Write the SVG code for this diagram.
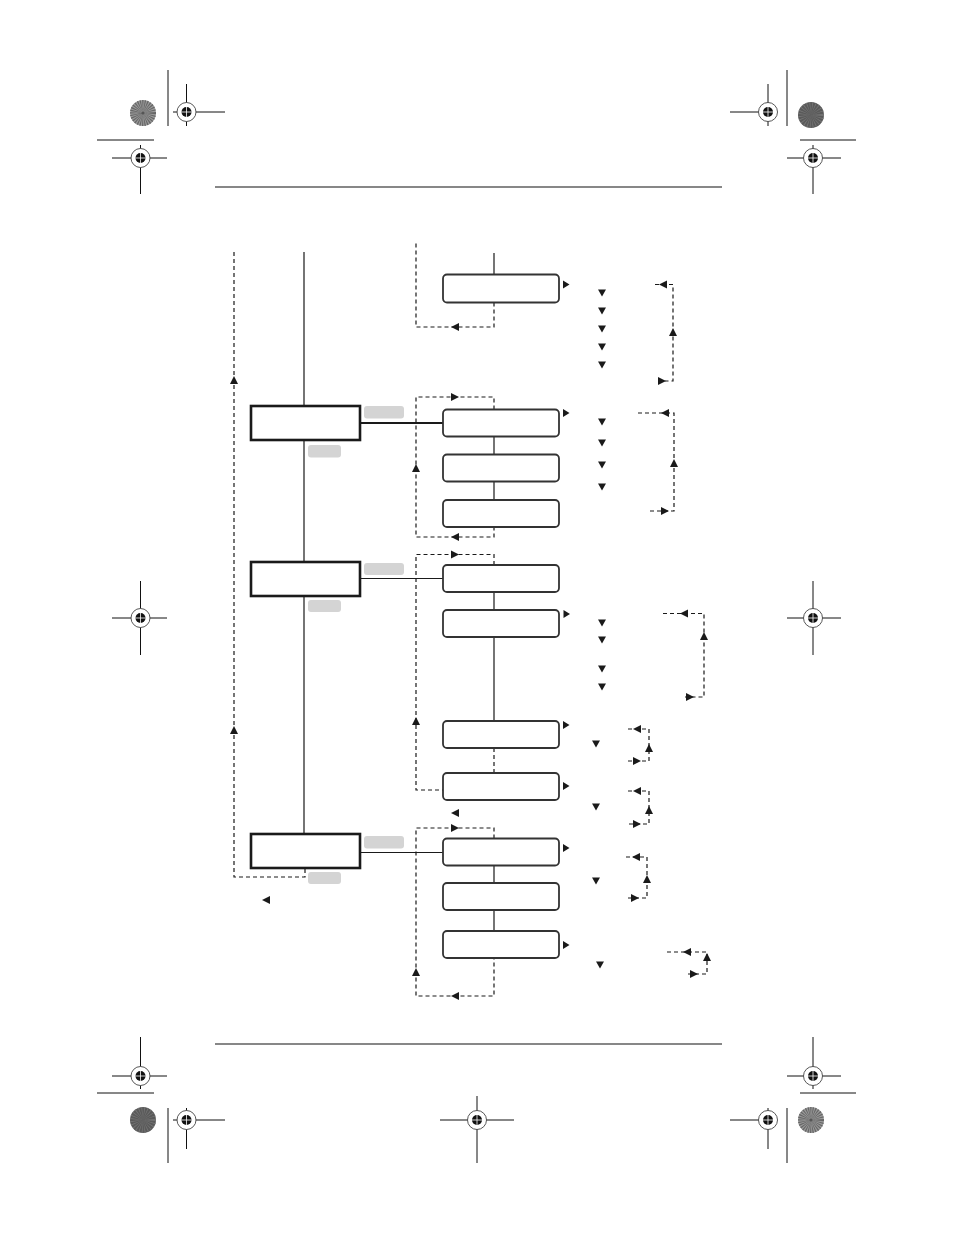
<svg xmlns="http://www.w3.org/2000/svg" xmlns:xlink="http://www.w3.org/1999/xlink" width="954" height="1235" viewBox="0 0 954 1235">
<style>
.rule{stroke:#111;stroke-width:1.2;fill:none}
.crop{stroke:#111;stroke-width:1;fill:none}
.main{fill:#fff;stroke:#1a1a1a;stroke-width:2.6}
.child{fill:#fff;stroke:#333;stroke-width:1.8}
.pill{fill:#d4d4d4}
.solid{stroke:#1a1a1a;stroke-width:1.2;fill:none}
.thick{stroke:#1a1a1a;stroke-width:2.2;fill:none}
.dash{stroke:#1a1a1a;stroke-width:1.2;fill:none;stroke-dasharray:4 3}
.ah{fill:#1a1a1a}
</style>
<defs>
<path id="aR" d="M-4,-4 L4,0 L-4,4 Z"/>
<path id="aL" d="M4,-4 L-4,0 L4,4 Z"/>
<path id="aU" d="M-4,4 L0,-4 L4,4 Z"/>
<path id="aD" d="M-4,-3.5 L4,-3.5 L0,3.5 Z"/>
<path id="tR" d="M-3,-4 L3.5,0 L-3,4 Z"/>
<g id="reg">
<circle r="9.5" fill="#fff" stroke="#444" stroke-width="0.9"/>
<circle r="5" fill="#111"/>
<path d="M-5,0 H5 M0,-5 V5" stroke="#fff" stroke-width="0.8"/>
</g>
<g id="discL">
<circle r="13" fill="#9a9a9a"/>
<circle r="6.5" fill="none" stroke="#666" stroke-width="13" stroke-dasharray="0.7 0.7"/>
<circle r="1.5" fill="#555"/>
</g>
<g id="discD">
<circle r="13" fill="#5a5a5a"/>
<circle r="6.5" fill="none" stroke="#777" stroke-width="13" stroke-dasharray="0.5 1.2"/>
</g>
</defs>

<g id="printer-marks">
<!-- top-left -->
<use href="#discL" x="143" y="113"/>
<line class="crop" x1="168" y1="70" x2="168" y2="126"/>
<line class="crop" x1="173" y1="112" x2="225" y2="112"/>
<line class="crop" x1="186.5" y1="84" x2="186.5" y2="126"/>
<use href="#reg" x="186.5" y="112"/>
<line class="crop" x1="97" y1="140" x2="154" y2="140"/>
<line class="crop" x1="112" y1="158" x2="167" y2="158"/>
<line class="crop" x1="140.5" y1="145" x2="140.5" y2="194"/>
<use href="#reg" x="140.5" y="158"/>
<!-- top-right -->
<line class="crop" x1="730" y1="112" x2="777" y2="112"/>
<line class="crop" x1="768" y1="84" x2="768" y2="126"/>
<use href="#reg" x="768" y="112"/>
<line class="crop" x1="787" y1="70" x2="787" y2="126"/>
<use href="#discD" x="811" y="115"/>
<line class="crop" x1="800" y1="140" x2="856" y2="140"/>
<line class="crop" x1="787" y1="158" x2="841" y2="158"/>
<line class="crop" x1="813" y1="145" x2="813" y2="194"/>
<use href="#reg" x="813" y="158"/>
<!-- middle -->
<line class="crop" x1="112" y1="618" x2="167" y2="618"/>
<line class="crop" x1="140.5" y1="581" x2="140.5" y2="655"/>
<use href="#reg" x="140.5" y="618"/>
<line class="crop" x1="787" y1="618" x2="841" y2="618"/>
<line class="crop" x1="813" y1="581" x2="813" y2="655"/>
<use href="#reg" x="813" y="618"/>
<!-- bottom-left -->
<line class="crop" x1="112" y1="1076" x2="167" y2="1076"/>
<line class="crop" x1="140.5" y1="1037" x2="140.5" y2="1089"/>
<use href="#reg" x="140.5" y="1076"/>
<line class="crop" x1="97" y1="1093" x2="154" y2="1093"/>
<use href="#discD" x="143" y="1120"/>
<line class="crop" x1="168" y1="1108" x2="168" y2="1163"/>
<line class="crop" x1="173" y1="1120" x2="225" y2="1120"/>
<line class="crop" x1="186.5" y1="1108" x2="186.5" y2="1149"/>
<use href="#reg" x="186.5" y="1120"/>
<!-- bottom-center -->
<line class="crop" x1="440" y1="1120" x2="514" y2="1120"/>
<line class="crop" x1="477" y1="1096" x2="477" y2="1163"/>
<use href="#reg" x="477" y="1120"/>
<!-- bottom-right -->
<line class="crop" x1="787" y1="1076" x2="841" y2="1076"/>
<line class="crop" x1="813" y1="1037" x2="813" y2="1089"/>
<use href="#reg" x="813" y="1076"/>
<line class="crop" x1="800" y1="1093" x2="856" y2="1093"/>
<line class="crop" x1="730" y1="1120" x2="777" y2="1120"/>
<line class="crop" x1="768" y1="1108" x2="768" y2="1149"/>
<use href="#reg" x="768" y="1120"/>
<line class="crop" x1="787" y1="1108" x2="787" y2="1163"/>
<use href="#discL" x="811" y="1120"/>
</g>

<g id="rules">
<line class="rule" x1="215" y1="187" x2="722" y2="187"/>
<line class="rule" x1="215" y1="1044" x2="722" y2="1044"/>
</g>

<g id="connectors">
<!-- left trunk -->
<path class="solid" d="M304,252 V406 M304,440 V562 M304,596 V834"/>
<path class="dash" d="M234,252 V877 H305 V868"/>
<use class="ah" href="#aU" x="234" y="380"/>
<use class="ah" href="#aU" x="234" y="730"/>
<use class="ah" href="#aL" x="266" y="900"/>
<!-- main to child -->
<path class="thick" d="M360,423 H443"/>
<path class="solid" d="M360,578.5 H443"/>
<path class="solid" d="M360,852.5 H443"/>
<!-- T0 -->
<path class="solid" d="M494,253 V274.5"/>
<path class="dash" d="M494,302.5 V327 H416 V243"/>
<use class="ah" href="#aL" x="455" y="327"/>
<!-- group A -->
<path class="solid" d="M494,436.5 V454.5 M494,481.5 V500"/>
<path class="dash" d="M494,409.5 V397 H416 V537 H494 V527"/>
<use class="ah" href="#aR" x="455" y="397"/>
<use class="ah" href="#aU" x="416" y="468"/>
<use class="ah" href="#aL" x="455" y="537"/>
<!-- group B -->
<path class="solid" d="M494,592 V610 M494,637 V721"/>
<path class="dash" d="M494,748 V773"/>
<path class="dash" d="M494,565 V554.5 H416 V790 H443"/>
<use class="ah" href="#aR" x="455" y="554.5"/>
<use class="ah" href="#aU" x="416" y="721"/>
<use class="ah" href="#aL" x="455" y="813"/>
<!-- group C -->
<path class="solid" d="M494,865.5 V883 M494,910 V931"/>
<path class="dash" d="M494,838.5 V828 H416 V996 H494 V958"/>
<use class="ah" href="#aR" x="455" y="828"/>
<use class="ah" href="#aU" x="416" y="972"/>
<use class="ah" href="#aL" x="455" y="996"/>

<!-- right side: T0 -->
<use class="ah" href="#tR" x="566" y="284.5"/>
<use class="ah" href="#aD" x="602" y="293"/>
<use class="ah" href="#aD" x="602" y="311"/>
<use class="ah" href="#aD" x="602" y="329"/>
<use class="ah" href="#aD" x="602" y="347"/>
<use class="ah" href="#aD" x="602" y="365"/>
<path class="dash" d="M655,284.5 H673 V381 H658"/>
<use class="ah" href="#aL" x="663" y="284.5"/>
<use class="ah" href="#aU" x="673" y="332"/>
<use class="ah" href="#aR" x="662" y="381"/>
<!-- A1 -->
<use class="ah" href="#tR" x="566" y="413"/>
<use class="ah" href="#aD" x="602" y="422"/>
<use class="ah" href="#aD" x="602" y="443"/>
<use class="ah" href="#aD" x="602" y="465"/>
<use class="ah" href="#aD" x="602" y="487"/>
<path class="dash" d="M638,413 H674 V511 H650"/>
<use class="ah" href="#aL" x="665" y="413"/>
<use class="ah" href="#aU" x="674" y="463"/>
<use class="ah" href="#aR" x="665" y="511"/>
<!-- B1 -->
<use class="ah" href="#tR" x="566.5" y="614"/>
<use class="ah" href="#aD" x="602" y="623"/>
<use class="ah" href="#aD" x="602" y="640"/>
<use class="ah" href="#aD" x="602" y="669"/>
<use class="ah" href="#aD" x="602" y="687"/>
<path class="dash" d="M663,613.5 H704 V697 H685"/>
<use class="ah" href="#aL" x="684" y="613.5"/>
<use class="ah" href="#aU" x="704" y="636"/>
<use class="ah" href="#aR" x="690" y="697"/>
<!-- B3 -->
<use class="ah" href="#tR" x="566" y="725"/>
<use class="ah" href="#aD" x="596" y="744"/>
<path class="dash" d="M628,729 H649 V761 H628"/>
<use class="ah" href="#aL" x="637" y="729"/>
<use class="ah" href="#aU" x="649" y="748"/>
<use class="ah" href="#aR" x="637" y="761"/>
<!-- B4 -->
<use class="ah" href="#tR" x="566" y="786"/>
<use class="ah" href="#aD" x="596" y="807"/>
<path class="dash" d="M628,791 H649 V824 H628"/>
<use class="ah" href="#aL" x="637" y="791"/>
<use class="ah" href="#aU" x="649" y="810"/>
<use class="ah" href="#aR" x="637" y="824"/>
<!-- C1 -->
<use class="ah" href="#tR" x="566" y="848"/>
<use class="ah" href="#aD" x="596" y="881"/>
<path class="dash" d="M626,857 H647 V898 H626"/>
<use class="ah" href="#aL" x="636" y="857"/>
<use class="ah" href="#aU" x="647" y="879"/>
<use class="ah" href="#aR" x="635" y="898"/>
<!-- C3 -->
<use class="ah" href="#tR" x="566" y="945"/>
<use class="ah" href="#aD" x="600" y="965"/>
<path class="dash" d="M667,952 H707 V974 H685"/>
<use class="ah" href="#aL" x="687" y="952"/>
<use class="ah" href="#aU" x="707" y="957"/>
<use class="ah" href="#aR" x="694" y="974"/>
</g>

<g id="M1"><rect class="main" x="251" y="406" width="109" height="34"/></g>
<g id="M1-tags"><rect class="pill" x="364" y="406" width="40" height="12.5" rx="3"/><rect class="pill" x="308" y="445" width="33" height="12.5" rx="3"/></g>
<g id="M2"><rect class="main" x="251" y="562" width="109" height="34"/></g>
<g id="M2-tags"><rect class="pill" x="364" y="563" width="40" height="12" rx="3"/><rect class="pill" x="308" y="600" width="33" height="12" rx="3"/></g>
<g id="M3"><rect class="main" x="251" y="834" width="109" height="34"/></g>
<g id="M3-tags"><rect class="pill" x="364" y="836" width="40" height="12.5" rx="3"/><rect class="pill" x="308" y="872" width="33" height="12" rx="3"/></g>

<g id="T0"><rect class="child" x="443" y="274.5" width="116" height="28" rx="4"/></g>
<g id="A1"><rect class="child" x="443" y="409.5" width="116" height="27" rx="4"/></g>
<g id="A2"><rect class="child" x="443" y="454.5" width="116" height="27" rx="4"/></g>
<g id="A3"><rect class="child" x="443" y="500" width="116" height="27" rx="4"/></g>
<g id="B1"><rect class="child" x="443" y="565" width="116" height="27" rx="4"/></g>
<g id="B2"><rect class="child" x="443" y="610" width="116" height="27" rx="4"/></g>
<g id="B3"><rect class="child" x="443" y="721" width="116" height="27" rx="4"/></g>
<g id="B4"><rect class="child" x="443" y="773" width="116" height="27" rx="4"/></g>
<g id="C1"><rect class="child" x="443" y="838.5" width="116" height="27" rx="4"/></g>
<g id="C2"><rect class="child" x="443" y="883" width="116" height="27" rx="4"/></g>
<g id="C3"><rect class="child" x="443" y="931" width="116" height="27" rx="4"/></g>
</svg>
